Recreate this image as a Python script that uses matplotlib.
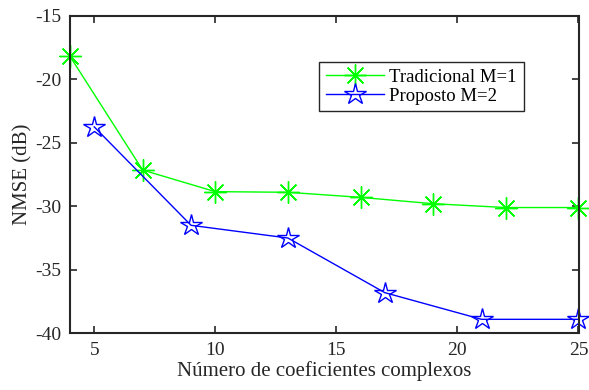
import numpy as np
import matplotlib.pyplot as plt

plt.rcParams['font.family'] = ['Liberation Serif', 'DejaVu Serif']
plt.rcParams['axes.unicode_minus'] = False

# Data
x_trad = [4, 7, 10, 13, 16, 19, 22, 25]
y_trad = [-18.2, -27.15, -28.85, -28.9, -29.3, -29.8, -30.1, -30.1]

x_prop = [5, 9, 13, 17, 21, 25]
y_prop = [-23.75, -31.5, -32.5, -36.8, -38.9, -38.9]

xticks = [5, 10, 15, 20, 25]
yticks = [-40, -35, -30, -25, -20, -15]

fig = plt.figure(figsize=(5.89, 3.90), dpi=100)
fig.subplots_adjust(left=70/589, right=578.5/589, top=1-15.7/390, bottom=1-333.3/390)
ax = fig.add_subplot(111)

ax.plot(x_trad, y_trad, color=(0, 1, 0), lw=1.0, marker=(8, 2, 0),
        markersize=16, markeredgewidth=1.0, label='Tradicional M=1', clip_on=False)
ax.plot(x_prop, y_prop, color=(0, 0, 1), lw=1.0, marker='*',
        markersize=16, markerfacecolor='none', markeredgewidth=1.0,
        label='Proposto M=2', clip_on=False)

ax.set_xlim(4, 25)
ax.set_ylim(-40, -15)
ax.set_xticks(xticks)
ax.set_yticks(yticks)
ax.tick_params(direction='in', top=True, right=True, labelsize=14, pad=6,
               length=5, width=1.2, color='#262626', labelcolor='#262626')
for s in ax.spines.values():
    s.set_linewidth(1.5)
    s.set_color('#262626')

ax.set_xlabel('Número de coeficientes complexos', fontsize=15, color='#262626', labelpad=2)
ax.set_ylabel('NMSE (dB)', fontsize=15, color='#262626', labelpad=2)

leg = ax.legend(loc='upper left', bbox_to_anchor=(0.49, 0.854), borderaxespad=0,
                fontsize=13.5, fancybox=False, edgecolor='#262626', framealpha=1,
                handlelength=3.1, handletextpad=0.3, borderpad=0.35, labelspacing=0.1)
leg.get_frame().set_linewidth(1.0)

fig.savefig('out.png', dpi=100)
